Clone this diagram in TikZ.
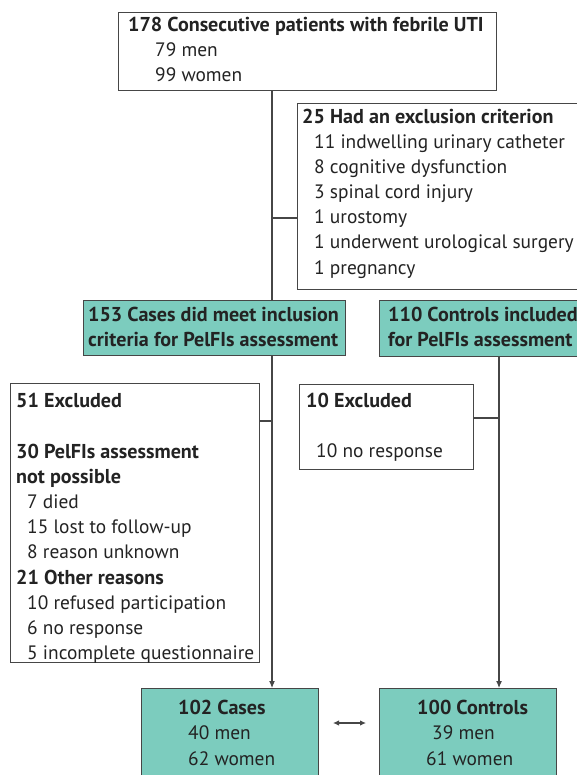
\documentclass[tikz,border=0pt]{standalone}
\usepackage{fontspec}
\setmainfont{PT Sans}
\usetikzlibrary{arrows.meta}
\definecolor{tealbox}{RGB}{124,204,190}
\definecolor{edgec}{RGB}{70,70,70}
\definecolor{textc}{RGB}{35,35,35}
\tikzset{
  box/.style={draw=edgec, line width=1.1pt, inner sep=0pt, anchor=north west},
  tbox/.style={box, fill=tealbox},
  conn/.style={draw=edgec, line width=1.1pt},
  arr/.style={conn, -{Latex[length=7pt,width=6pt]}},
  txt/.style={anchor=base west, inner sep=0pt, text=textc, font=\fontsize{19.4}{19.4}\selectfont},
  hd/.style={txt, font=\fontsize{20.1}{20.1}\selectfont\bfseries},
}
\begin{document}
\begin{tikzpicture}[x=1pt,y=-1pt]
\useasboundingbox (0,0) rectangle (577,775);
\clip (0,0) rectangle (577,775);
\fill[white] (0,0) rectangle (577,775);
% boxes
\node[box, minimum width=378pt, minimum height=78pt] (top) at (118,12) {};
\node[box, minimum width=300pt, minimum height=186pt] (excl) at (297,103) {};
\node[tbox, minimum width=262pt, minimum height=55pt] (cases) at (83,300) {};
\node[tbox, minimum width=220pt, minimum height=56pt] (ctrl) at (379,300) {};
\node[box, minimum width=249pt, minimum height=279pt] (ex51) at (10,383) {};
\node[box, minimum width=174pt, minimum height=85pt] (ex10) at (299,384) {};
\node[tbox, minimum width=177pt, minimum height=110pt] (fcases) at (141,688) {};
\node[tbox, minimum width=177pt, minimum height=110pt] (fctrl) at (379,688) {};
% connector coordinates
\coordinate (vl) at (272,0);
\coordinate (vr) at (499,0);
\coordinate (yexcl) at (0,218);
\coordinate (y51) at (0,421);
\coordinate (y10) at (0,418);
\coordinate (da) at (333,723);
\coordinate (db) at (366,723);
% connectors
\draw[conn] (vl |- top.south) -- (vl |- cases.north);
\draw[conn] (vl |- yexcl) -- (excl.west |- yexcl);
\draw[arr] (vl |- cases.south) -- (vl |- fcases.north);
\draw[conn] (vl |- y51) -- (ex51.east |- y51);
\draw[arr] (vr |- ctrl.south) -- (vr |- fctrl.north);
\draw[conn] (vr |- y10) -- (ex10.east |- y10);
\draw[conn, {Latex[length=6pt,width=5.5pt]}-{Latex[length=6pt,width=5.5pt]}] (da) -- (db);
% texts
\node[hd] (t1) at (128,32) {178 Consecutive patients with febrile UTI};
\node[txt] (t2) at (155,57) {79 men};
\node[txt] (t3) at (155,82) {99 women};
\node[hd] (e1) at (302,124) {25 Had an exclusion criterion};
\node[txt] (e2) at (314,149) {11 indwelling urinary catheter};
\node[txt] (e3) at (314,174) {8 cognitive dysfunction};
\node[txt] (e4) at (314,199) {3 spinal cord injury};
\node[txt] (e5) at (314,224) {1 urostomy};
\node[txt] (e6) at (314,249) {1 underwent urological surgery};
\node[txt] (e7) at (314,274) {1 pregnancy};
\node[hd] (c1) at (88,321) {153 Cases did meet inclusion};
\node[hd] (c2) at (88,346) {criteria for PelFIs assessment};
\node[hd] (k1) at (388,321) {110 Controls included};
\node[hd] (k2) at (388,346) {for PelFIs assessment};
\node[hd] (x1) at (16,407) {51 Excluded};
\node[hd] (x2) at (16,458) {30 PelFIs assessment};
\node[hd] (x3) at (16,483) {not possible};
\node[txt] (x4) at (27,508) {7 died};
\node[txt] (x5) at (27,533) {15 lost to follow-up};
\node[txt] (x6) at (27,558) {8 reason unknown};
\node[hd] (x7) at (16,584) {21 Other reasons};
\node[txt] (x8) at (27,609) {10 refused participation};
\node[txt] (x9) at (27,634) {6 no response};
\node[txt] (x10) at (27,659) {5 incomplete questionnaire};
\node[hd] (y1) at (306,407) {10 Excluded};
\node[txt] (y2) at (316,457) {10 no response};
\node[hd] (f1) at (178,714) {102 Cases};
\node[txt] (f2) at (188,739) {40 men};
\node[txt] (f3) at (188,765) {62 women};
\node[hd] (g1) at (417,714) {100 Controls};
\node[txt] (g2) at (432,739) {39 men};
\node[txt] (g3) at (426,765) {61 women};
\end{tikzpicture}
\end{document}
